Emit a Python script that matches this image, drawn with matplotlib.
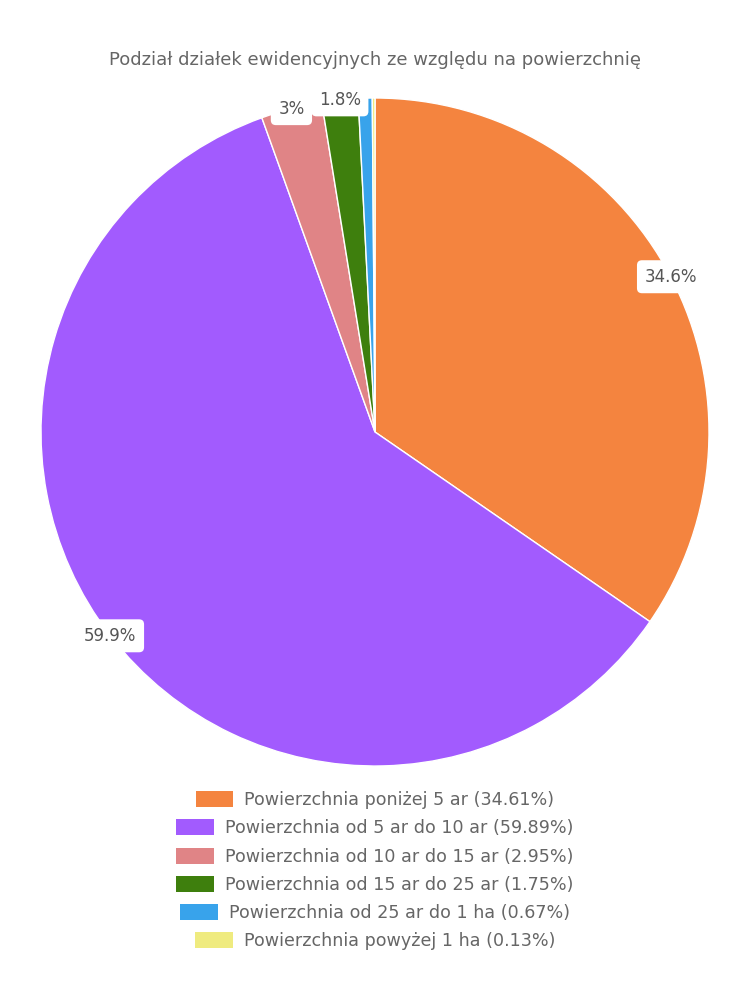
import matplotlib
matplotlib.use("Agg")
import matplotlib.pyplot as plt
from matplotlib.patches import Patch
import numpy as np

title = "Podział działek ewidencyjnych ze względu na powierzchnię"
categories = [
    "Powierzchnia poniżej 5 ar",
    "Powierzchnia od 5 ar do 10 ar",
    "Powierzchnia od 10 ar do 15 ar",
    "Powierzchnia od 15 ar do 25 ar",
    "Powierzchnia od 25 ar do 1 ha",
    "Powierzchnia powyżej 1 ha",
]
values = [34.61, 59.89, 2.95, 1.75, 0.67, 0.13]
slice_labels = ["34.6%", "59.9%", "3%", "1.8%", "", ""]
colors = ["#F4843F", "#A25BFE", "#E08486", "#3E7F0D", "#38A3EB", "#EFEB7F"]

plt.rcParams['font.family'] = ['DejaVu Sans']
text_color = "#666666"

fig = plt.figure(figsize=(7.5, 10), dpi=100)
ax = fig.add_axes([41/750, 234/1000, 668/750, 668/1000])
wedges, _ = ax.pie(values, colors=colors, startangle=90, counterclock=False,
                   radius=1.0, wedgeprops=dict(edgecolor="white", linewidth=1))
ax.set_xlim(-1, 1)
ax.set_ylim(-1, 1)
ax.set_aspect("equal")
ax.axis("off")

total = sum(values)
cum = 0
for v, lab in zip(values, slice_labels):
    mid = (cum + v / 2) / total
    cum += v
    if not lab:
        continue
    ang = np.deg2rad(90 - 360 * mid)
    r = 1.0
    ax.text(r * np.cos(ang), r * np.sin(ang), lab, ha="center", va="center",
            fontsize=12, color="#555555",
            bbox=dict(boxstyle="round,pad=0.45,rounding_size=0.3", fc="white", ec="none"))

fig.text(0.5, 1 - 60/1000, title, ha="center", va="center", fontsize=13, color=text_color)

row_y = [800, 828, 857, 885, 913, 941]
for cat, v, c, y in zip(categories, values, colors, row_y):
    h = Patch(facecolor=c, edgecolor="none")
    fig.legend(handles=[h], labels=[f"{cat} ({v:.2f}%)"], loc="center",
               bbox_to_anchor=(0.5, 1 - y/1000), frameon=False, fontsize=12.6,
               handlelength=2.17, handleheight=1.03, handletextpad=0.63,
               labelcolor=text_color, borderpad=0, borderaxespad=0)

fig.savefig("out.png", dpi=100)
